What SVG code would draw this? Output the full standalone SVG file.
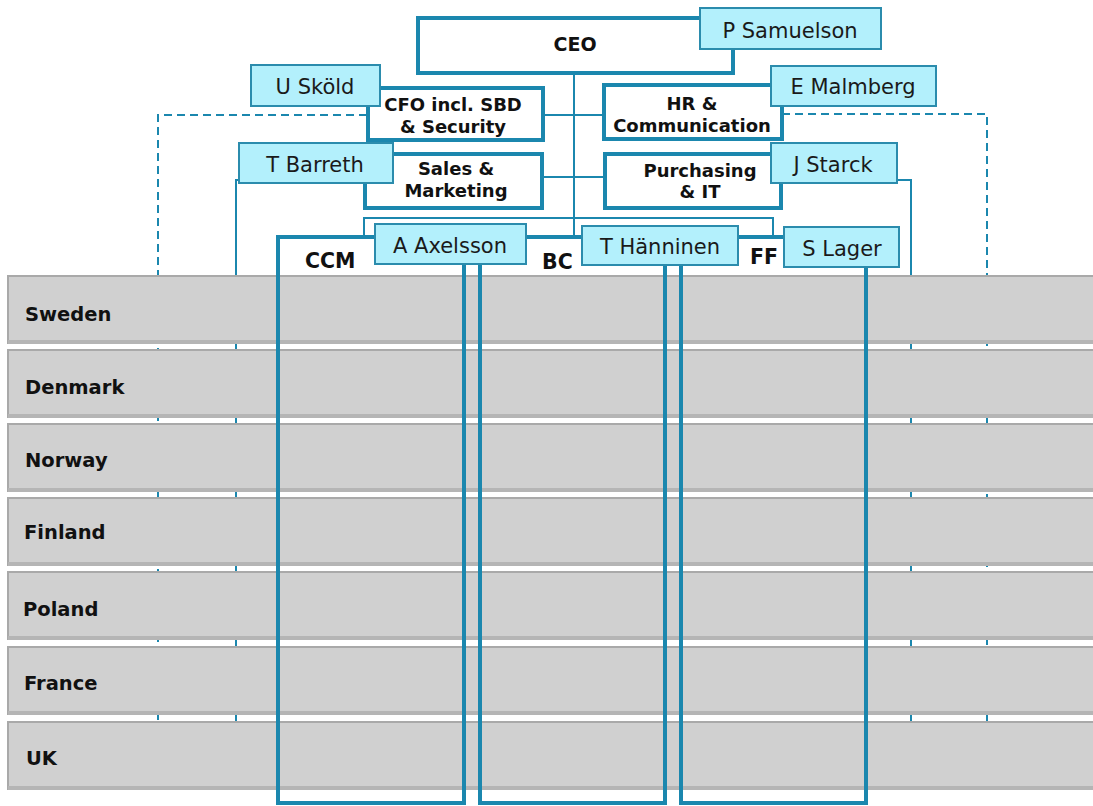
<svg xmlns="http://www.w3.org/2000/svg" width="1093" height="806" viewBox="0 0 1093 806">
<style>
.box{fill:#ffffff;stroke:#1b87ae;stroke-width:4}
.col{fill:none;stroke:#1b87ae;stroke-width:4}
.name{fill:#b3f0fc;stroke:#2b8cad;stroke-width:2}
.thin{fill:none;stroke:#1b87ae;stroke-width:2}
.dash{fill:none;stroke:#1b87ae;stroke-width:2;stroke-dasharray:8 5}
.bar{fill:#d0d0d0;stroke:#a9a9a9;stroke-width:2}
.shadow{fill:#b5b5b5}
.lbl{font-family:"DejaVu Sans",Verdana,sans-serif;font-weight:bold;font-size:18px;fill:#111;text-anchor:middle}
.nm{font-family:"DejaVu Sans",Verdana,sans-serif;font-size:21px;fill:#1a1a1a;text-anchor:middle}
.cty{font-family:"DejaVu Sans",Verdana,sans-serif;font-weight:bold;font-size:19.5px;fill:#111}
.colt{font-family:"DejaVu Sans",Verdana,sans-serif;font-weight:bold;font-size:20.5px;fill:#111}
</style>
<rect width="1093" height="806" fill="#ffffff"/>

<g id="connectors-back">
  <path class="dash" d="M367,115 H158 V770"/>
  <path class="dash" d="M782,114 H987 V770"/>
  <path class="thin" d="M239,180 H236 V770"/>
  <path class="thin" d="M897,180 H911 V770"/>
</g>

<g id="countries">
  <g id="sweden"><rect class="bar" x="8" y="276" width="1095" height="67"/><rect class="shadow" x="8" y="340" width="1095" height="4"/><text class="cty" x="25" y="321">Sweden</text></g>
  <g id="denmark"><rect class="bar" x="8" y="350" width="1095" height="67"/><rect class="shadow" x="8" y="414" width="1095" height="4"/><text class="cty" x="25" y="394">Denmark</text></g>
  <g id="norway"><rect class="bar" x="8" y="424" width="1095" height="67"/><rect class="shadow" x="8" y="488" width="1095" height="4"/><text class="cty" x="25" y="467">Norway</text></g>
  <g id="finland"><rect class="bar" x="8" y="498" width="1095" height="67"/><rect class="shadow" x="8" y="562" width="1095" height="4"/><text class="cty" x="24" y="539">Finland</text></g>
  <g id="poland"><rect class="bar" x="8" y="572" width="1095" height="67"/><rect class="shadow" x="8" y="636" width="1095" height="4"/><text class="cty" x="23" y="616">Poland</text></g>
  <g id="france"><rect class="bar" x="8" y="647" width="1095" height="67"/><rect class="shadow" x="8" y="711" width="1095" height="4"/><text class="cty" x="24" y="690">France</text></g>
  <g id="uk"><rect class="bar" x="8" y="722" width="1095" height="67"/><rect class="shadow" x="8" y="786" width="1095" height="4"/><text class="cty" x="26" y="765">UK</text></g>
</g>

<g id="connectors">
  <path class="thin" d="M574,73 V237"/>
  <path class="thin" d="M543,115 H605"/>
  <path class="thin" d="M542,177 H605"/>
  <path class="thin" d="M364,237 V218 H773 V237"/>
  <path class="col" d="M278,237 H784"/>
</g>

<g id="ceo"><rect class="box" x="418" y="18" width="315" height="55"/><text class="lbl" x="575" y="51" style="font-size:19px">CEO</text></g>
<g id="cfo"><rect class="box" x="368" y="88" width="175" height="52"/><text class="lbl" x="453" y="111">CFO incl. SBD</text><text class="lbl" x="453" y="133">&amp; Security</text></g>
<g id="hr"><rect class="box" x="604" y="85" width="178" height="54"/><text class="lbl" x="692" y="110">HR &amp;</text><text class="lbl" x="692" y="132">Communication</text></g>
<g id="sales"><rect class="box" x="365" y="154" width="177" height="54"/><text class="lbl" x="456" y="175">Sales &amp;</text><text class="lbl" x="456" y="197">Marketing</text></g>
<g id="purchasing"><rect class="box" x="605" y="154" width="176" height="54"/><text class="lbl" x="700" y="177">Purchasing</text><text class="lbl" x="700" y="198">&amp; IT</text></g>

<g id="ccm"><rect class="col" x="278" y="237" width="186" height="566"/><text class="colt" x="305" y="268">CCM</text></g>
<g id="bc"><rect class="col" x="480" y="237" width="185" height="566"/><text class="colt" x="542" y="269">BC</text></g>
<g id="ff"><rect class="col" x="681" y="237" width="185" height="566"/><text class="colt" x="750" y="264">FF</text></g>

<g id="p-samuelson"><rect class="name" x="700" y="8" width="181" height="41"/><text class="nm" x="790" y="38">P Samuelson</text></g>
<g id="u-skold"><rect class="name" x="251" y="65" width="129" height="41"/><text class="nm" x="315" y="94">U Sköld</text></g>
<g id="e-malmberg"><rect class="name" x="771" y="66" width="165" height="40"/><text class="nm" x="853" y="94">E Malmberg</text></g>
<g id="t-barreth"><rect class="name" x="239" y="143" width="154" height="40"/><text class="nm" x="315" y="172">T Barreth</text></g>
<g id="j-starck"><rect class="name" x="771" y="143" width="126" height="40"/><text class="nm" x="833" y="172">J Starck</text></g>
<g id="a-axelsson"><rect class="name" x="375" y="224" width="151" height="40"/><text class="nm" x="450" y="253">A Axelsson</text></g>
<g id="t-hanninen"><rect class="name" x="582" y="226" width="156" height="39"/><text class="nm" x="660" y="254">T Hänninen</text></g>
<g id="s-lager"><rect class="name" x="784" y="227" width="115" height="40"/><text class="nm" x="842" y="256">S Lager</text></g>
</svg>
